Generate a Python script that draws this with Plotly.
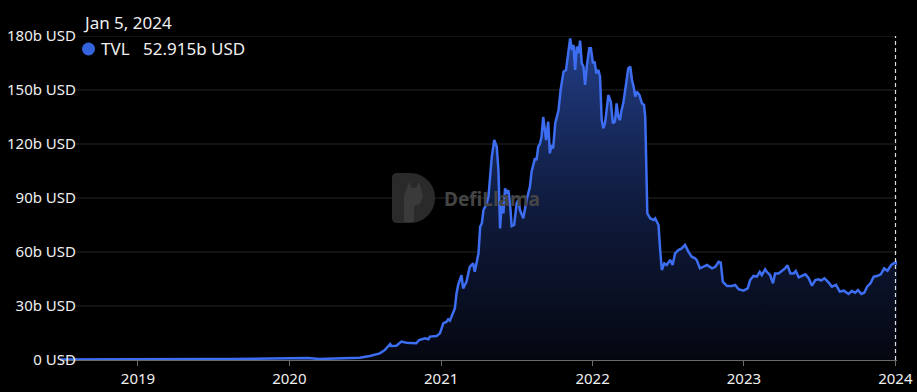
import plotly.graph_objects as go
import pandas as pd

# ---------------- data (TVL in billions USD) ----------------
dates = [
    "2018-06-27", "2018-08-15", "2018-10-15", "2018-12-10", "2019-02-15", "2019-04-15",
    "2019-06-20", "2019-08-15", "2019-10-15", "2019-12-15", "2020-01-20", "2020-02-15",
    "2020-03-13", "2020-04-15", "2020-05-26", "2020-06-19", "2020-07-13", "2020-08-06",
    "2020-08-18", "2020-08-31", "2020-09-03", "2020-09-15", "2020-09-27", "2020-10-09",
    "2020-11-02", "2020-11-09", "2020-11-23", "2020-12-01", "2020-12-05", "2020-12-21",
    "2020-12-29", "2021-01-06", "2021-01-14", "2021-01-18", "2021-01-22", "2021-01-30",
    "2021-02-03", "2021-02-07", "2021-02-11", "2021-02-19", "2021-02-23", "2021-03-03",
    "2021-03-11", "2021-03-19", "2021-03-23", "2021-04-01", "2021-04-05", "2021-04-09",
    "2021-04-13", "2021-04-21", "2021-04-25", "2021-04-29", "2021-05-03", "2021-05-09",
    "2021-05-15", "2021-05-19", "2021-05-23", "2021-05-27", "2021-05-31", "2021-06-04",
    "2021-06-08", "2021-06-12", "2021-06-16", "2021-06-20", "2021-06-26", "2021-07-02",
    "2021-07-06", "2021-07-10", "2021-07-18", "2021-07-26", "2021-08-03", "2021-08-07",
    "2021-08-11", "2021-08-15", "2021-08-19", "2021-08-23", "2021-08-27", "2021-08-31",
    "2021-09-04", "2021-09-11", "2021-09-16", "2021-09-20", "2021-09-24", "2021-09-28",
    "2021-10-03", "2021-10-11", "2021-10-16", "2021-10-23", "2021-10-29", "2021-11-04",
    "2021-11-08", "2021-11-12", "2021-11-16", "2021-11-20", "2021-11-24", "2021-11-28",
    "2021-12-02", "2021-12-06", "2021-12-10", "2021-12-14", "2021-12-18", "2021-12-24",
    "2021-12-28", "2022-01-02", "2022-01-06", "2022-01-10", "2022-01-15", "2022-01-19",
    "2022-01-23", "2022-01-27", "2022-01-31", "2022-02-04", "2022-02-08", "2022-02-14",
    "2022-02-19", "2022-02-24", "2022-02-28", "2022-03-04", "2022-03-08", "2022-03-12",
    "2022-03-16", "2022-03-23", "2022-03-28", "2022-04-02", "2022-04-06", "2022-04-10",
    "2022-04-14", "2022-04-18", "2022-04-24", "2022-04-30", "2022-05-05", "2022-05-08",
    "2022-05-10", "2022-05-13", "2022-05-20", "2022-05-28", "2022-06-01", "2022-06-09",
    "2022-06-13", "2022-06-17", "2022-06-23", "2022-06-29", "2022-07-07", "2022-07-13",
    "2022-07-19", "2022-07-27", "2022-08-04", "2022-08-12", "2022-08-20", "2022-08-28",
    "2022-09-05", "2022-09-09", "2022-09-17", "2022-09-25", "2022-10-04", "2022-10-16",
    "2022-10-24", "2022-11-01", "2022-11-06", "2022-11-11", "2022-11-21", "2022-12-03",
    "2022-12-11", "2022-12-19", "2022-12-31", "2023-01-10", "2023-01-16", "2023-01-24",
    "2023-02-01", "2023-02-08", "2023-02-13", "2023-02-21", "2023-02-25", "2023-03-05",
    "2023-03-12", "2023-03-17", "2023-03-25", "2023-04-03", "2023-04-10", "2023-04-16",
    "2023-04-23", "2023-05-01", "2023-05-06", "2023-05-13", "2023-05-21", "2023-05-29",
    "2023-06-06", "2023-06-14", "2023-06-22", "2023-06-30", "2023-07-06", "2023-07-14",
    "2023-07-24", "2023-08-01", "2023-08-11", "2023-08-20", "2023-08-30", "2023-09-10",
    "2023-09-18", "2023-09-26", "2023-10-03", "2023-10-11", "2023-10-18", "2023-10-25",
    "2023-11-02", "2023-11-10", "2023-11-18", "2023-11-27", "2023-12-05", "2023-12-13",
    "2023-12-22", "2023-12-28", "2024-01-02", "2024-01-05",
]
tvl_b = [
    0.30, 0.38, 0.33, 0.28, 0.35, 0.45,
    0.55, 0.50, 0.60, 0.68, 0.85, 1.15,
    0.55, 0.80, 0.95, 1.3, 2.2, 3.7,
    5.5, 8.9, 7.8, 7.9, 10.2, 9.6,
    9.3, 11.1, 12.0, 11.5, 13.0, 13.3,
    14.8, 20.4, 21.3, 22.6, 21.8, 26.9,
    28.7, 37.0, 41.7, 47.2, 39.8, 43.5,
    51.8, 53.7, 49.0, 59.3, 74.0, 75.9,
    83.3, 87.0, 90.7, 101.8, 112.9, 122.2,
    118.5, 105.6, 73.1, 87.0, 81.5, 95.4,
    92.6, 94.4, 87.0, 74.4, 75.0, 87.0,
    88.9, 83.3, 78.7, 88.9, 96.3, 104.6,
    109.3, 112.0, 111.1, 118.5, 120.0, 124.0,
    135.0, 122.2, 132.4, 114.8, 119.4, 117.6,
    131.5, 138.9, 150.0, 160.2, 161.1, 170.4,
    178.7, 172.2, 175.0, 161.1, 174.1, 170.4,
    177.4, 164.8, 163.0, 152.8, 163.0, 173.2,
    173.2, 164.8, 165.7, 159.3, 161.1, 157.4,
    133.3, 128.7, 131.5, 138.9, 147.2, 143.5,
    131.5, 132.4, 142.6, 135.0, 133.3, 138.9,
    142.6, 153.7, 162.0, 163.0, 155.6, 151.8,
    146.3, 149.1, 147.2, 142.6, 141.7, 135.0,
    109.3, 81.5, 78.7, 77.8, 78.7, 75.0,
    61.1, 50.0, 53.7, 52.8, 55.6, 52.8,
    59.3, 61.1, 62.0, 63.9, 60.2, 57.4,
    56.5, 55.6, 50.9, 51.8, 52.8, 50.9,
    51.8, 54.6, 54.1, 43.5, 41.1, 41.1,
    41.7, 39.3, 38.5, 39.8, 44.4, 46.7,
    46.3, 49.0, 47.2, 50.4, 49.0, 47.2,
    42.6, 48.1, 48.1, 49.6, 50.9, 52.6,
    48.1, 48.1, 49.4, 45.9, 46.7, 47.6,
    45.4, 41.3, 44.4, 44.8, 44.1, 45.4,
    43.1, 40.7, 41.7, 38.0, 38.5, 36.7,
    38.3, 37.4, 38.9, 36.7, 37.4, 40.7,
    42.6, 46.3, 46.7, 47.6, 50.9, 49.6,
    52.8, 53.7, 54.4, 52.915,
]
y_ticks = [0, 30, 60, 90, 120, 150, 180]
y_tick_labels = ["0 USD", "30b USD", "60b USD", "90b USD", "120b USD", "150b USD", "180b USD"]
x_tick_dates = ["2019-01-01", "2020-01-01", "2021-01-01", "2022-01-01", "2023-01-01", "2024-01-01"]
x_tick_labels = ["2019", "2020", "2021", "2022", "2023", "2024"]
series_name = "TVL"
watermark = "DefiLlama"

# ---------------- styling ----------------
W, H = 917, 392
ML, MR, MT, MB = 60, 20, 36, 32
PW, PH = W - ML - MR, H - MT - MB
FONT = "Noto Sans"
LINE = "#3d6ef2"
DOT = "#3463dd"
TXT = "#f0f0f0"
GRID = "#262626"
AXIS = "#6b6b6b"


def pxx(x):
    return (x - ML) / PW


def pxy(y):
    return (H - MB - y) / PH


fig = go.Figure()
fig.add_trace(go.Scatter(
    x=dates, y=tvl_b, mode="lines", name=series_name,
    line=dict(color=LINE, width=2.5),
    fill="tozeroy",
    fillgradient=dict(type="vertical",
                      colorscale=[[0, "rgb(5,7,16)"], [0.5, "rgb(16,28,64)"], [1, "rgb(34,62,134)"]]),
    hoverinfo="skip", showlegend=False,
))

shapes = []
# horizontal gridlines (start right of the tick labels)
for v in y_ticks[1:]:
    shapes.append(dict(type="line", xref="paper", yref="y", x0=pxx(76), x1=1, y0=v, y1=v,
                       line=dict(color=GRID, width=1), layer="below"))
# hover spike (dashed) at last point, drawn just inside the plot edge
shapes.append(dict(type="line", xref="paper", yref="paper", x0=pxx(W - MR - 1.5), x1=pxx(W - MR - 1.5),
                   y0=0, y1=1, line=dict(color="#dddddd", width=1.2, dash="4px,3px"), layer="above"))
# legend dot
shapes.append(dict(type="circle", xref="paper", yref="paper",
                   x0=pxx(82), x1=pxx(95), y0=pxy(55.5), y1=pxy(42.5),
                   fillcolor=DOT, line=dict(width=0)))
# watermark logo (D shape)
k = 0.5523 * 25
path = (f"M{pxx(392)},{pxy(178)} Q{pxx(392)},{pxy(173)} {pxx(397)},{pxy(173)} L{pxx(410)},{pxy(173)} "
        f"C{pxx(410 + k)},{pxy(173)} {pxx(435)},{pxy(198 - k)} {pxx(435)},{pxy(198)} "
        f"C{pxx(435)},{pxy(198 + k)} {pxx(410 + k)},{pxy(223)} {pxx(410)},{pxy(223)} "
        f"L{pxx(397)},{pxy(223)} Q{pxx(392)},{pxy(223)} {pxx(392)},{pxy(218)} Z")
shapes.append(dict(type="path", xref="paper", yref="paper", path=path,
                   fillcolor="#2a2a2a", line=dict(width=0), layer="below"))
# llama head hint inside logo
shapes.append(dict(type="path", xref="paper", yref="paper",
                   path=(f"M{pxx(404)},{pxy(222)} L{pxx(404)},{pxy(196)} L{pxx(407)},{pxy(188)} "
                         f"L{pxx(409)},{pxy(182)} L{pxx(412)},{pxy(188)} L{pxx(416)},{pxy(188)} "
                         f"L{pxx(419)},{pxy(182)} L{pxx(421)},{pxy(188)} L{pxx(423)},{pxy(196)} "
                         f"L{pxx(420)},{pxy(204)} L{pxx(414)},{pxy(206)} L{pxx(414)},{pxy(222)} Z"),
                   fillcolor="#3a3a3a", line=dict(width=0), layer="below"))

last_ts = pd.Timestamp(dates[-1])
date_text = f"{last_ts.strftime('%b')} {last_ts.day}, {last_ts.year}"
value_text = f"{tvl_b[-1]:.3f}b USD"

annotations = [
    dict(text=date_text, xref="paper", yref="paper", x=pxx(81), y=pxy(22), xanchor="left",
         yanchor="middle", showarrow=False, font=dict(family=FONT, size=17, color=TXT)),
    dict(text=series_name, xref="paper", yref="paper", x=pxx(99), y=pxy(49), xanchor="left",
         yanchor="middle", showarrow=False, font=dict(family=FONT, size=17, color=TXT)),
    dict(text=value_text, xref="paper", yref="paper", x=pxx(141), y=pxy(49), xanchor="left",
         yanchor="middle", showarrow=False, font=dict(family=FONT, size=17, color=TXT)),
    dict(text=watermark, xref="paper", yref="paper", x=pxx(442), y=pxy(199), xanchor="left",
         yanchor="middle", showarrow=False, font=dict(family=FONT, size=19, color="#454545", weight="bold")),
]

fig.update_layout(
    width=W, height=H, autosize=False,
    margin=dict(l=ML, r=MR, t=MT, b=MB, pad=0, autoexpand=False),
    paper_bgcolor="#000000", plot_bgcolor="#000000",
    font=dict(family=FONT, color=TXT),
    shapes=shapes, annotations=annotations,
    showlegend=False,
    xaxis=dict(
        type="date", range=[dates[0], dates[-1]],
        tickvals=x_tick_dates, ticktext=x_tick_labels,
        showgrid=False, zeroline=False, automargin=False,
        showline=True, linecolor=AXIS, linewidth=1,
        ticks="outside", ticklen=5, tickcolor=AXIS, tickwidth=1,
        tickfont=dict(family=FONT, size=15, color=TXT),
        fixedrange=True,
    ),
    yaxis=dict(
        range=[0, 180], tickvals=y_ticks, ticktext=y_tick_labels,
        showgrid=False, zeroline=False, showline=False, ticks="", automargin=False,
        tickfont=dict(family=FONT, size=15, color=TXT),
        ticklabelstandoff=-17,
        fixedrange=True,
    ),
)

fig.write_html("out.html")
